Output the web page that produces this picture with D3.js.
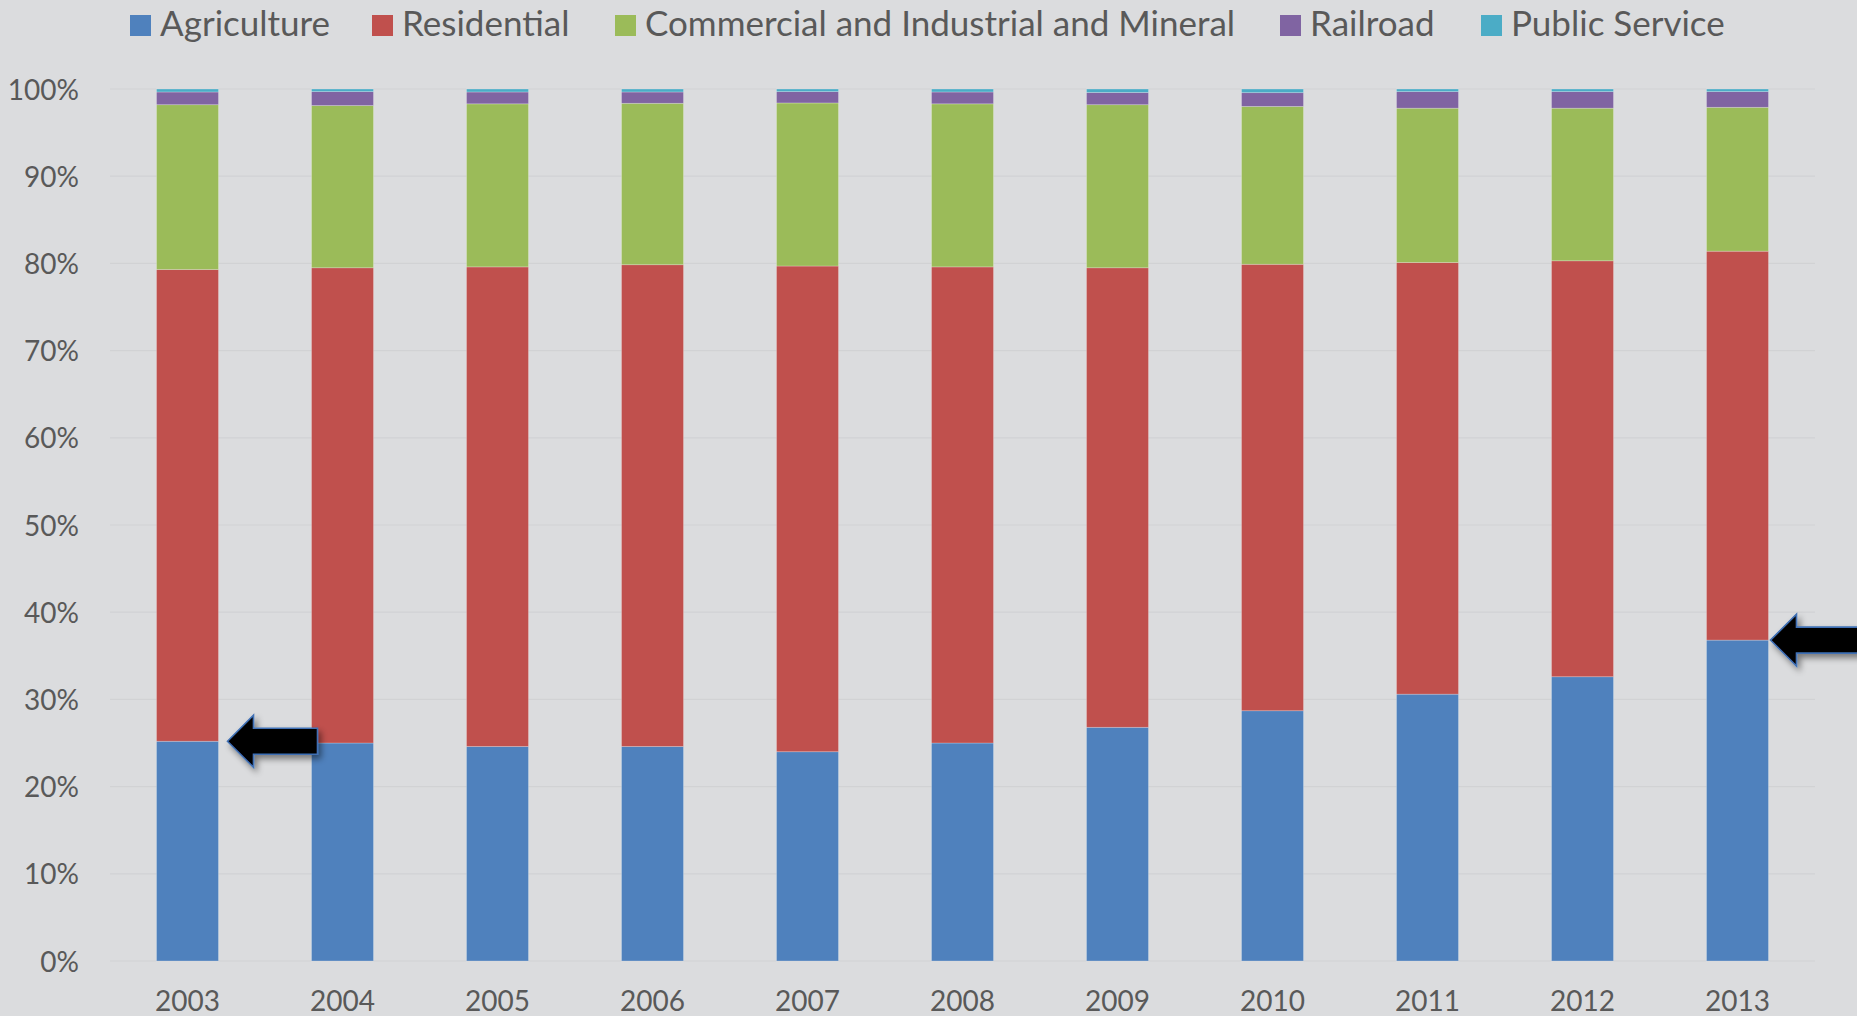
<!DOCTYPE html>
<html><head><meta charset="utf-8">
<script src="https://cdn.jsdelivr.net/npm/d3@7"></script>
<style>
html,body{margin:0;padding:0;background:#DBDCDE;}
svg{display:block;}
text{font-family:Lato,"Open Sans",sans-serif;fill:#595959;}
</style></head>
<body>
<svg id="chart" width="1857" height="1016"></svg>
<script>
const years = ["2003","2004","2005","2006","2007","2008","2009","2010","2011","2012","2013"];
const agriculture = [25.2,25.0,24.6,24.6,24.0,25.0,26.8,28.7,30.6,32.6,36.8];
const residential = [54.1,54.5,55.0,55.25,55.7,54.6,52.7,51.2,49.5,47.7,44.6];
const commercial  = [18.9,18.6,18.7,18.51,18.7,18.7,18.7,18.1,17.7,17.5,16.5];
const railroad    = [1.46,1.6,1.36,1.3,1.3,1.36,1.4,1.58,1.9,1.9,1.8];
const publicService = [0.34,0.3,0.34,0.34,0.3,0.34,0.4,0.42,0.3,0.3,0.3];
const seriesNames = ["Agriculture","Residential","Commercial and Industrial and Mineral","Railroad","Public Service"];
const seriesColors = ["#4F81BD","#C0504D","#9BBB59","#8064A2","#4BACC6"];
const yTicks = [0,0.1,0.2,0.3,0.4,0.5,0.6,0.7,0.8,0.9,1.0];
const arrowYears = ["2003","2013"];

(function(){
const svg = d3.select("#chart");
const pLeft = 110, pRight = 1815, pTop = 89, pBottom = 961;
const legendX = [130, 372, 615, 1280, 1481];

const rows = years.map((yr,i)=>({year:yr,
  "Agriculture":agriculture[i],"Residential":residential[i],
  "Commercial and Industrial and Mineral":commercial[i],
  "Railroad":railroad[i],"Public Service":publicService[i]}));
const normalized = rows.map(r=>{
  const t = seriesNames.reduce((s,k)=>s+r[k],0);
  const o = {year:r.year}; seriesNames.forEach(k=>o[k]=r[k]/t); return o;
});
const stack = d3.stack().keys(seriesNames)(normalized);

const x = d3.scaleBand().domain(years).range([pLeft,pRight]).paddingInner(0.6).paddingOuter(0.3);
const y = d3.scaleLinear().domain([0,1]).range([pBottom,pTop]);
const color = d3.scaleOrdinal().domain(seriesNames).range(seriesColors);

const defs = svg.append("defs");
const f = defs.append("filter").attr("id","shadow").attr("x","-30%").attr("y","-30%").attr("width","170%").attr("height","170%");
f.append("feDropShadow").attr("dx",3).attr("dy",4).attr("stdDeviation",3).attr("flood-color","#000").attr("flood-opacity",0.45);

svg.append("g").selectAll("line").data(yTicks).join("line")
  .attr("x1",pLeft).attr("x2",pRight)
  .attr("y1",d=>y(d)).attr("y2",d=>y(d))
  .attr("stroke","#D1D2D4").attr("stroke-width",1.2);

const yAxis = d3.axisLeft(y).tickValues(yTicks).tickFormat(d3.format(".0%")).tickSize(0).tickPadding(0);
const yg = svg.append("g").attr("transform",`translate(${79},0)`).call(yAxis);
yg.select(".domain").remove();
yg.selectAll("text").attr("font-size",28).attr("font-family","Lato,'Open Sans',sans-serif").attr("fill","#595959").attr("dy","0.36em");

const xAxis = d3.axisBottom(x).tickSize(0).tickPadding(0);
const xg = svg.append("g").attr("transform",`translate(0,${991})`).call(xAxis);
xg.select(".domain").remove();
xg.selectAll("text").attr("font-size",28).attr("font-family","Lato,'Open Sans',sans-serif").attr("fill","#595959").attr("dy","0.72em");

svg.append("g").selectAll("g").data(stack).join("g")
  .attr("fill",d=>color(d.key))
  .selectAll("rect").data(d=>d).join("rect")
  .attr("x",d=>x(d.data.year))
  .attr("width",x.bandwidth())
  .attr("y",d=>y(d[1]))
  .attr("height",d=>y(d[0])-y(d[1]))
  .attr("stroke","rgba(255,255,255,0.3)").attr("stroke-width",0.8);

function arrowPath(tipX,tipY,s,len){
  const hl=26, hh=26, bh=13;
  const p = [[tipX,tipY],[tipX+s*hl,tipY-hh],[tipX+s*hl,tipY-bh],[tipX+s*len,tipY-bh],
             [tipX+s*len,tipY+bh],[tipX+s*hl,tipY+bh],[tipX+s*hl,tipY+hh]];
  return "M"+p.map(q=>q.join(",")).join("L")+"Z";
}
arrowYears.forEach((yr,k)=>{
  const i = years.indexOf(yr);
  const tipX = x(yr)+x.bandwidth()+(k===0?9:2);
  const tipY = y(normalized[i]["Agriculture"]);
  svg.append("path").attr("d",arrowPath(tipX,tipY,1,k===0?90:120))
    .attr("fill","#000").attr("stroke","#3F70B5").attr("stroke-width",1.6)
    .attr("filter","url(#shadow)");
});

const lg = svg.append("g");
seriesNames.forEach((n,i)=>{
  const lx = legendX[i];
  lg.append("rect").attr("x",lx).attr("y",15).attr("width",21).attr("height",21).attr("fill",seriesColors[i]);
  lg.append("text").attr("x",lx+30).attr("y",36).attr("font-size",35).text(n);
});
})();
</script>
</body></html>
